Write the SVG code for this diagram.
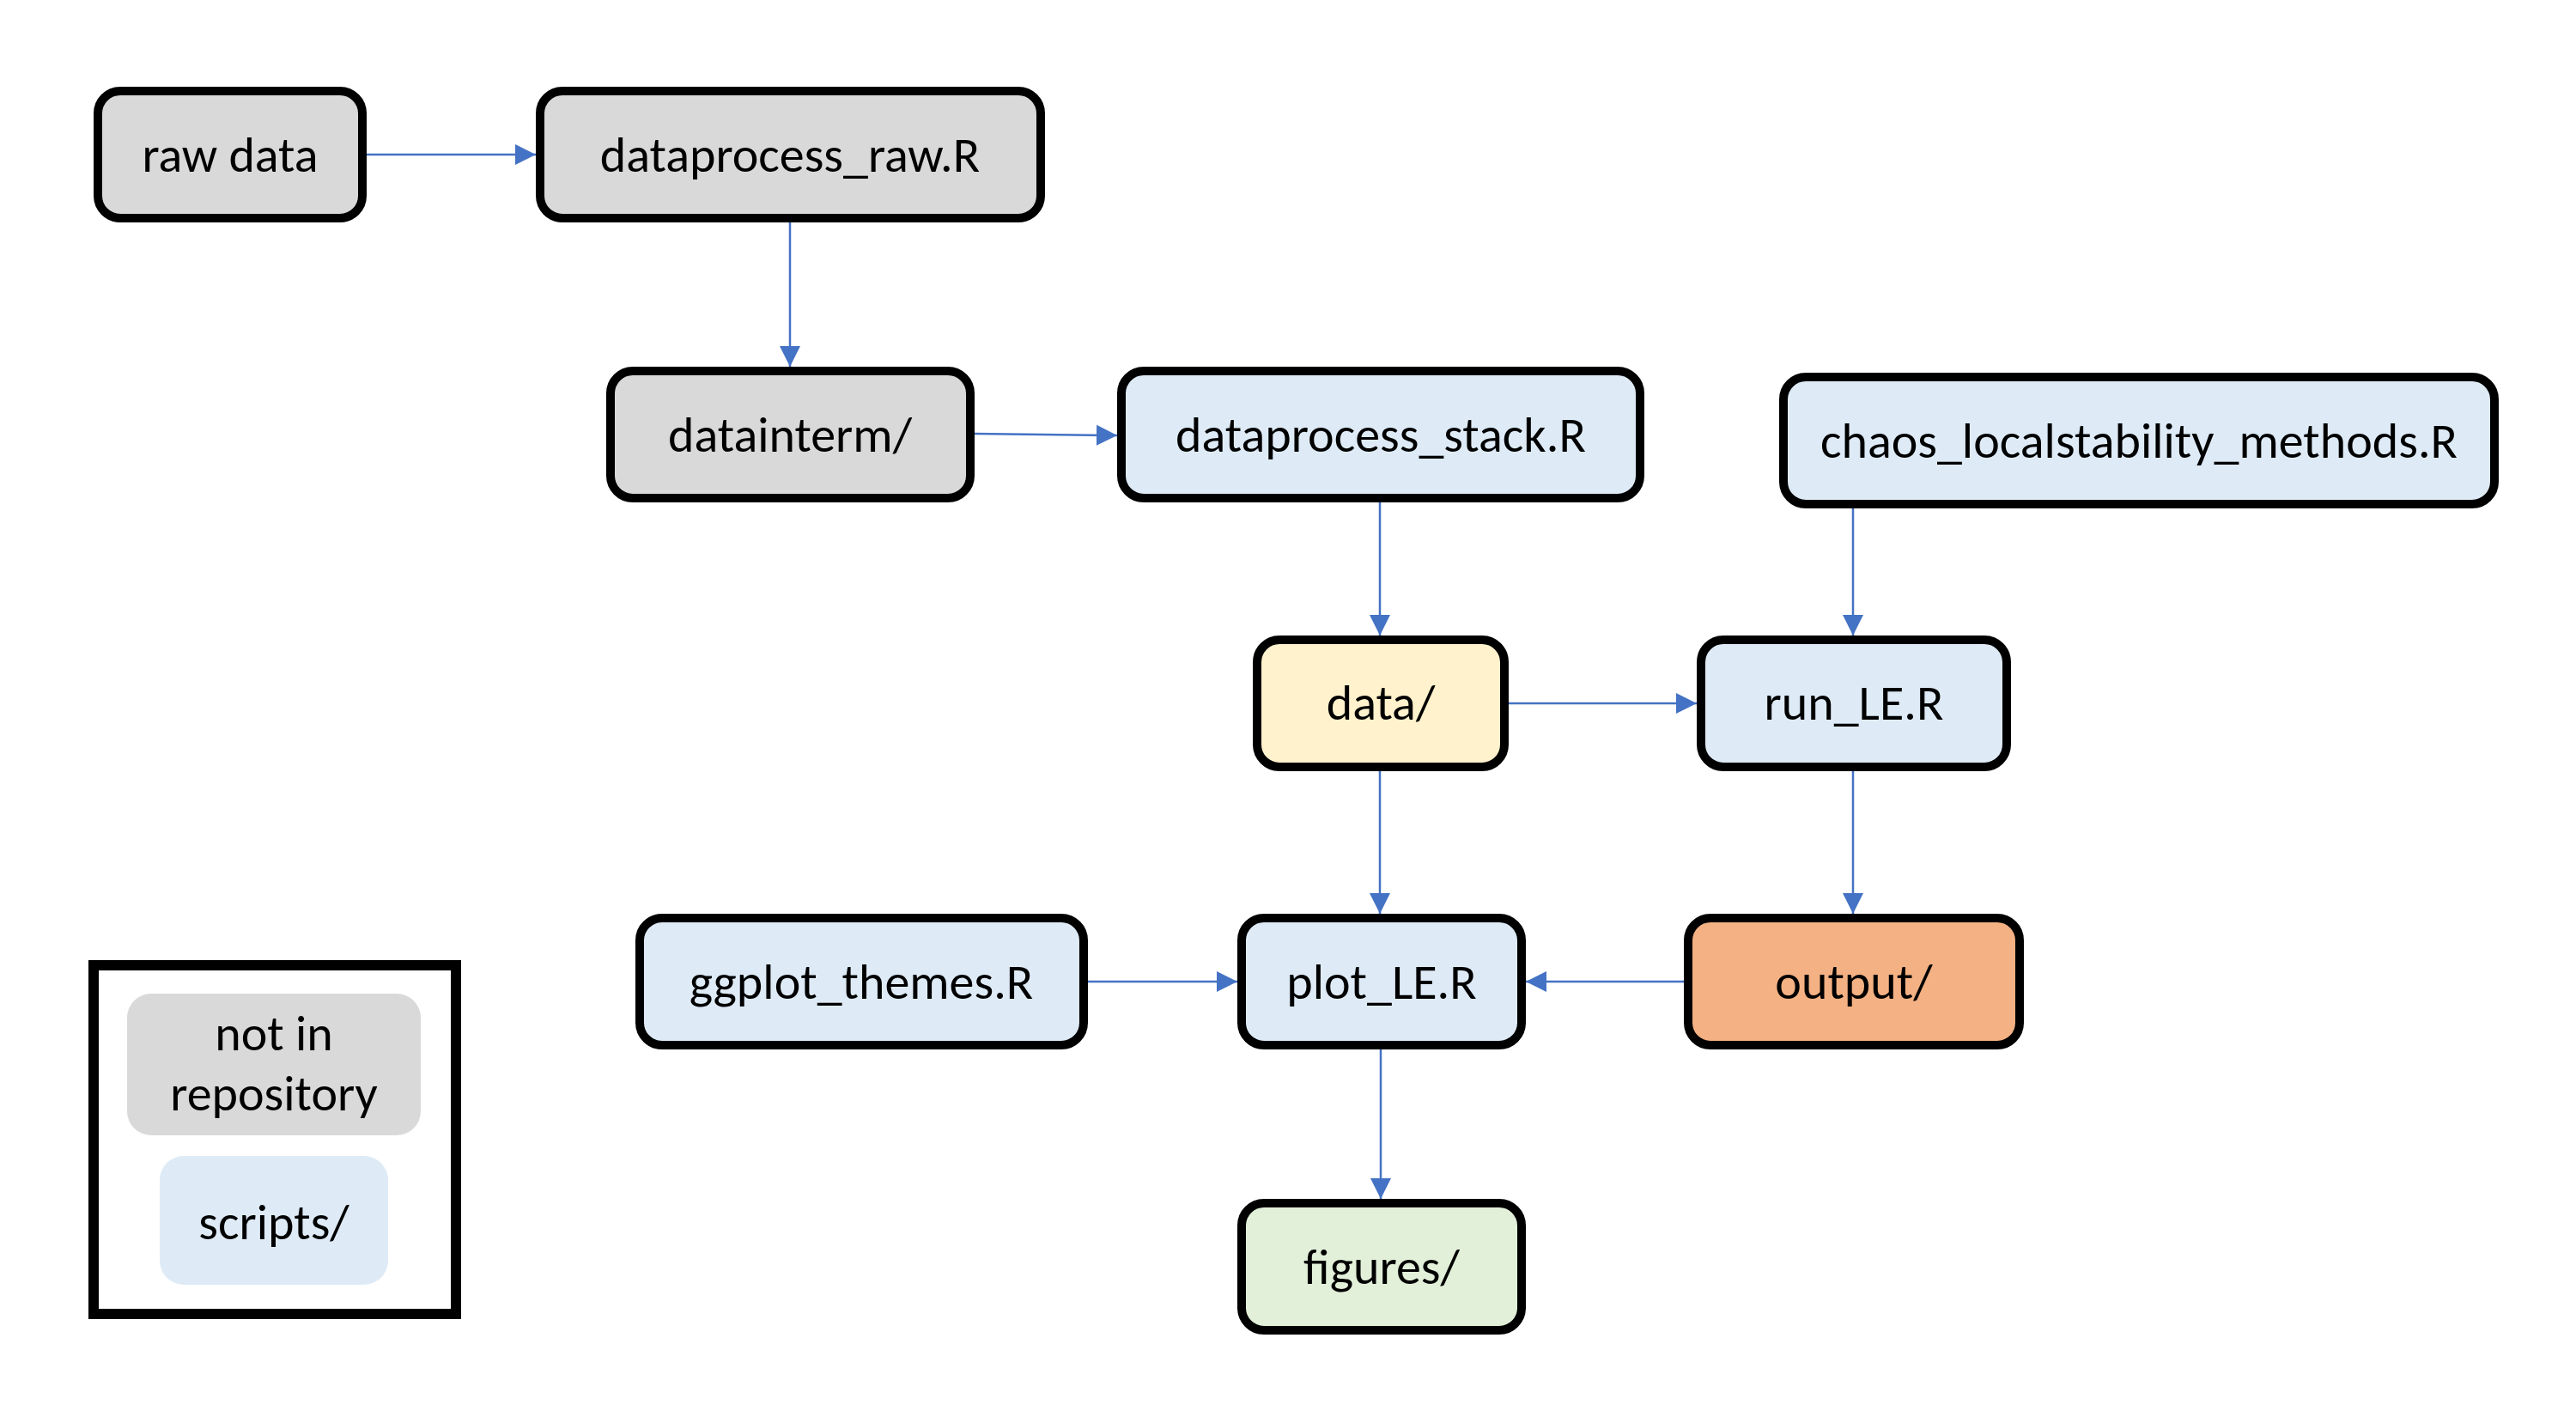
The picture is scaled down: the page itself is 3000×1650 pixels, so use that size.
<svg xmlns="http://www.w3.org/2000/svg" width="3000" height="1650" viewBox="0 0 3000 1650">
<defs>
<style>
.n rect{stroke:#000;stroke-width:10}
.gray{fill:#D9D9D9}
.blue{fill:#DEEBF7}
.yellow{fill:#FFF2CC}
.orange{fill:#F4B183}
.green{fill:#E2F0D9}
text{font-family:Carlito,Lato,"Liberation Sans",sans-serif;font-size:58px;fill:#000;text-anchor:middle}
.c line{stroke:#4472C4;stroke-width:2.5;fill:none}
</style>
<marker id="ah" viewBox="0 0 10 10" refX="10" refY="5" markerWidth="24" markerHeight="24" markerUnits="userSpaceOnUse" orient="auto">
<path d="M0,0 L10,5 L0,10 z" fill="#4472C4"/>
</marker>
</defs>
<rect width="3000" height="1650" fill="#fff"/>
<g id="connectors" class="c">
<line x1="427" y1="180" x2="624" y2="180" marker-end="url(#ah)"/>
<line x1="920" y1="259" x2="920" y2="427" marker-end="url(#ah)"/>
<line x1="1135" y1="505" x2="1301" y2="507" marker-end="url(#ah)"/>
<line x1="1607" y1="585" x2="1607" y2="740" marker-end="url(#ah)"/>
<line x1="2158" y1="592" x2="2158" y2="740" marker-end="url(#ah)"/>
<line x1="1757" y1="819" x2="1976" y2="819" marker-end="url(#ah)"/>
<line x1="1607" y1="898" x2="1607" y2="1064" marker-end="url(#ah)"/>
<line x1="2158" y1="898" x2="2158" y2="1064" marker-end="url(#ah)"/>
<line x1="1267" y1="1143" x2="1441" y2="1143" marker-end="url(#ah)"/>
<line x1="1961" y1="1143" x2="1777" y2="1143" marker-end="url(#ah)"/>
<line x1="1608" y1="1222" x2="1608" y2="1396" marker-end="url(#ah)"/>
</g>
<g id="raw_data" class="n"><rect class="gray" x="114" y="106" width="308" height="148" rx="26"/><text x="268" y="200">raw data</text></g>
<g id="dataprocess_raw" class="n"><rect class="gray" x="629" y="106" width="583" height="148" rx="26"/><text x="920" y="200">dataprocess_raw.R</text></g>
<g id="datainterm" class="n"><rect class="gray" x="711" y="432" width="419" height="148" rx="26"/><text x="920" y="526">datainterm/</text></g>
<g id="dataprocess_stack" class="n"><rect class="blue" x="1306" y="432" width="604" height="148" rx="26"/><text x="1608" y="526">dataprocess_stack.R</text></g>
<g id="chaos_methods" class="n"><rect class="blue" x="2077" y="439" width="828" height="148" rx="26"/><text x="2491" y="533">chaos_localstability_methods.R</text></g>
<g id="data" class="n"><rect class="yellow" x="1464" y="745" width="288" height="148" rx="26"/><text x="1608" y="838">data/</text></g>
<g id="run_LE" class="n"><rect class="blue" x="1981" y="745" width="356" height="148" rx="26"/><text x="2159" y="838">run_LE.R</text></g>
<g id="ggplot_themes" class="n"><rect class="blue" x="745" y="1069" width="517" height="148" rx="26"/><text x="1003" y="1163">ggplot_themes.R</text></g>
<g id="plot_LE" class="n"><rect class="blue" x="1446" y="1069" width="326" height="148" rx="26"/><text x="1609" y="1163">plot_LE.R</text></g>
<g id="output" class="n"><rect class="orange" x="1966" y="1069" width="386" height="148" rx="26"/><text x="2159" y="1163">output/</text></g>
<g id="figures" class="n"><rect class="green" x="1446" y="1401" width="326" height="148" rx="26"/><text x="1609" y="1495">figures/</text></g>
<g id="legend">
<rect x="109" y="1124" width="422" height="406" fill="#fff" stroke="#000" stroke-width="12"/>
<rect x="148" y="1157" width="342" height="165" rx="28" fill="#D9D9D9"/>
<text x="319" y="1223">not in</text>
<text x="319" y="1293">repository</text>
<rect x="186" y="1346" width="266" height="150" rx="28" fill="#DEEBF7"/>
<text x="319" y="1443">scripts/</text>
</g>
</svg>
